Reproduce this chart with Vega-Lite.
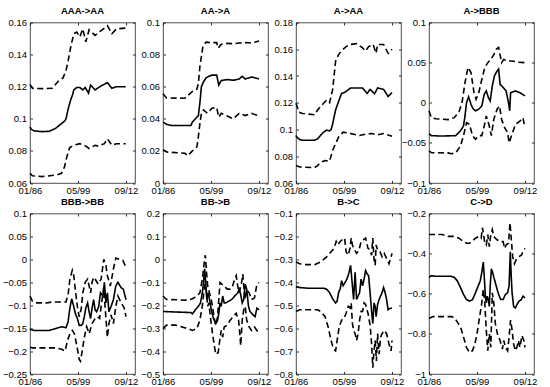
{
"$schema": "https://vega.github.io/schema/vega-lite/v6.json",
"padding": {"left": 2, "top": 4.5, "right": 5, "bottom": 2},
"background": "white",
"columns": 4,
"spacing": {"row": 30, "column": 28},
"bounds": "flush",
"config": {
  "view": {"stroke": "#222222", "strokeWidth": 0.8},
  "axis": {"grid": false, "domain": false, "tickSize": -2.5, "tickColor": "black", "tickWidth": 0.8, "labelColor": "black", "labelFont": "Liberation Sans", "labelFontSize": 9.5, "labelPadding": 6, "title": null},
  "axisBottom": {"labelPadding": 4.5},
  "title": {"font": "Liberation Sans", "fontSize": 9.5, "fontWeight": "bold", "color": "black", "offset": 2.5},
  "line": {"color": "black", "strokeWidth": 1.6}
},
"datasets": {
"p1": [
{"s":"m","t":0,"v":0.095},{"s":"m","t":4,"v":0.0935},{"s":"m","t":13,"v":0.0925},{"s":"m","t":40,"v":0.092},{"s":"m","t":64,"v":0.0922},{"s":"m","t":85,"v":0.094},{"s":"m","t":95,"v":0.0955},{"s":"m","t":105,"v":0.097},{"s":"m","t":115,"v":0.0985},{"s":"m","t":120,"v":0.1},{"s":"m","t":127,"v":0.106},{"s":"m","t":136,"v":0.112},{"s":"m","t":142,"v":0.115},{"s":"m","t":146,"v":0.118},{"s":"m","t":156,"v":0.1195},{"s":"m","t":166,"v":0.1195},{"s":"m","t":176,"v":0.118},{"s":"m","t":184,"v":0.1195},{"s":"m","t":195,"v":0.116},{"s":"m","t":202,"v":0.121},{"s":"m","t":217,"v":0.118},{"s":"m","t":237,"v":0.1205},{"s":"m","t":258,"v":0.1225},{"s":"m","t":273,"v":0.119},{"s":"m","t":288,"v":0.12},{"s":"m","t":319,"v":0.12},
{"s":"h","t":0,"v":0.1215},{"s":"h","t":8,"v":0.119},{"s":"h","t":40,"v":0.1188},{"s":"h","t":74,"v":0.119},{"s":"h","t":95,"v":0.1235},{"s":"h","t":110,"v":0.1255},{"s":"h","t":120,"v":0.13},{"s":"h","t":127,"v":0.136},{"s":"h","t":136,"v":0.145},{"s":"h","t":146,"v":0.153},{"s":"h","t":156,"v":0.154},{"s":"h","t":166,"v":0.151},{"s":"h","t":176,"v":0.156},{"s":"h","t":186,"v":0.148},{"s":"h","t":197,"v":0.1555},{"s":"h","t":217,"v":0.152},{"s":"h","t":237,"v":0.155},{"s":"h","t":258,"v":0.158},{"s":"h","t":273,"v":0.153},{"s":"h","t":288,"v":0.156},{"s":"h","t":319,"v":0.1565},
{"s":"l","t":0,"v":0.066},{"s":"l","t":8,"v":0.0645},{"s":"l","t":40,"v":0.064},{"s":"l","t":90,"v":0.065},{"s":"l","t":105,"v":0.066},{"s":"l","t":115,"v":0.07},{"s":"l","t":122,"v":0.0757},{"s":"l","t":132,"v":0.082},{"s":"l","t":146,"v":0.0835},{"s":"l","t":166,"v":0.0845},{"s":"l","t":186,"v":0.083},{"s":"l","t":197,"v":0.0815},{"s":"l","t":217,"v":0.0835},{"s":"l","t":227,"v":0.083},{"s":"l","t":248,"v":0.0845},{"s":"l","t":258,"v":0.0875},{"s":"l","t":273,"v":0.0835},{"s":"l","t":288,"v":0.0845},{"s":"l","t":319,"v":0.0845}
],
"p2": [
{"s":"m","t":0,"v":0.038},{"s":"m","t":12,"v":0.0365},{"s":"m","t":30,"v":0.0358},{"s":"m","t":93,"v":0.0358},{"s":"m","t":98,"v":0.038},{"s":"m","t":108,"v":0.04},{"s":"m","t":118,"v":0.042},{"s":"m","t":123,"v":0.05},{"s":"m","t":128,"v":0.06},{"s":"m","t":135,"v":0.063},{"s":"m","t":143,"v":0.0654},{"s":"m","t":153,"v":0.0665},{"s":"m","t":163,"v":0.0672},{"s":"m","t":179,"v":0.0672},{"s":"m","t":186,"v":0.061},{"s":"m","t":194,"v":0.0638},{"s":"m","t":214,"v":0.0645},{"s":"m","t":234,"v":0.064},{"s":"m","t":254,"v":0.0648},{"s":"m","t":264,"v":0.0665},{"s":"m","t":274,"v":0.0648},{"s":"m","t":295,"v":0.066},{"s":"m","t":320,"v":0.0648},
{"s":"h","t":0,"v":0.0556},{"s":"h","t":12,"v":0.053},{"s":"h","t":73,"v":0.0528},{"s":"h","t":98,"v":0.057},{"s":"h","t":113,"v":0.0585},{"s":"h","t":118,"v":0.062},{"s":"h","t":123,"v":0.0727},{"s":"h","t":133,"v":0.085},{"s":"h","t":143,"v":0.0878},{"s":"h","t":163,"v":0.0874},{"s":"h","t":179,"v":0.0875},{"s":"h","t":184,"v":0.084},{"s":"h","t":194,"v":0.0865},{"s":"h","t":214,"v":0.087},{"s":"h","t":234,"v":0.0868},{"s":"h","t":254,"v":0.0872},{"s":"h","t":274,"v":0.0875},{"s":"h","t":295,"v":0.0872},{"s":"h","t":320,"v":0.0885},
{"s":"l","t":0,"v":0.0208},{"s":"l","t":12,"v":0.0193},{"s":"l","t":73,"v":0.0185},{"s":"l","t":83,"v":0.017},{"s":"l","t":98,"v":0.02},{"s":"l","t":113,"v":0.0225},{"s":"l","t":118,"v":0.029},{"s":"l","t":123,"v":0.037},{"s":"l","t":128,"v":0.0434},{"s":"l","t":135,"v":0.0455},{"s":"l","t":148,"v":0.0434},{"s":"l","t":163,"v":0.0466},{"s":"l","t":179,"v":0.047},{"s":"l","t":186,"v":0.041},{"s":"l","t":194,"v":0.0434},{"s":"l","t":214,"v":0.0417},{"s":"l","t":234,"v":0.04},{"s":"l","t":254,"v":0.0434},{"s":"l","t":274,"v":0.042},{"s":"l","t":295,"v":0.0434},{"s":"l","t":320,"v":0.0417}
],
"p3": [
{"s":"m","t":0,"v":0.0955},{"s":"m","t":2,"v":0.0945},{"s":"m","t":12,"v":0.0925},{"s":"m","t":22,"v":0.092},{"s":"m","t":62,"v":0.092},{"s":"m","t":72,"v":0.093},{"s":"m","t":82,"v":0.0957},{"s":"m","t":92,"v":0.098},{"s":"m","t":102,"v":0.0995},{"s":"m","t":112,"v":0.099},{"s":"m","t":117,"v":0.1},{"s":"m","t":122,"v":0.104},{"s":"m","t":132,"v":0.1146},{"s":"m","t":142,"v":0.121},{"s":"m","t":152,"v":0.127},{"s":"m","t":162,"v":0.1277},{"s":"m","t":182,"v":0.131},{"s":"m","t":222,"v":0.131},{"s":"m","t":237,"v":0.127},{"s":"m","t":247,"v":0.13},{"s":"m","t":262,"v":0.1267},{"s":"m","t":272,"v":0.131},{"s":"m","t":292,"v":0.13},{"s":"m","t":307,"v":0.1247},{"s":"m","t":320,"v":0.1277},
{"s":"h","t":0,"v":0.1196},{"s":"h","t":10,"v":0.113},{"s":"h","t":22,"v":0.112},{"s":"h","t":62,"v":0.111},{"s":"h","t":72,"v":0.1146},{"s":"h","t":92,"v":0.1196},{"s":"h","t":102,"v":0.122},{"s":"h","t":112,"v":0.12},{"s":"h","t":122,"v":0.1297},{"s":"h","t":132,"v":0.151},{"s":"h","t":142,"v":0.156},{"s":"h","t":152,"v":0.159},{"s":"h","t":167,"v":0.162},{"s":"h","t":182,"v":0.1636},{"s":"h","t":202,"v":0.1642},{"s":"h","t":222,"v":0.161},{"s":"h","t":232,"v":0.1586},{"s":"h","t":242,"v":0.162},{"s":"h","t":257,"v":0.1636},{"s":"h","t":267,"v":0.157},{"s":"h","t":272,"v":0.1636},{"s":"h","t":292,"v":0.1636},{"s":"h","t":307,"v":0.157},{"s":"h","t":320,"v":0.16},
{"s":"l","t":0,"v":0.073},{"s":"l","t":12,"v":0.072},{"s":"l","t":62,"v":0.0715},{"s":"l","t":72,"v":0.073},{"s":"l","t":82,"v":0.0756},{"s":"l","t":97,"v":0.0768},{"s":"l","t":112,"v":0.0763},{"s":"l","t":122,"v":0.0844},{"s":"l","t":132,"v":0.0894},{"s":"l","t":142,"v":0.0945},{"s":"l","t":157,"v":0.098},{"s":"l","t":172,"v":0.0975},{"s":"l","t":192,"v":0.0965},{"s":"l","t":212,"v":0.0955},{"s":"l","t":232,"v":0.0965},{"s":"l","t":252,"v":0.097},{"s":"l","t":272,"v":0.096},{"s":"l","t":292,"v":0.097},{"s":"l","t":320,"v":0.095}
],
"p4": [
{"s":"m","t":0,"v":-0.0385},{"s":"m","t":8,"v":-0.041},{"s":"m","t":40,"v":-0.0415},{"s":"m","t":89,"v":-0.041},{"s":"m","t":105,"v":-0.035},{"s":"m","t":115,"v":-0.029},{"s":"m","t":120,"v":-0.0165},{"s":"m","t":125,"v":0},{"s":"m","t":132,"v":0.0075},{"s":"m","t":140,"v":-0.002},{"s":"m","t":147,"v":-0.0075},{"s":"m","t":155,"v":-0.01},{"s":"m","t":166,"v":-0.008},{"s":"m","t":176,"v":-0.004},{"s":"m","t":184,"v":0.0106},{"s":"m","t":191,"v":0.0147},{"s":"m","t":198,"v":0.0064},{"s":"m","t":204,"v":0.0023},{"s":"m","t":211,"v":0.021},{"s":"m","t":218,"v":0.0334},{"s":"m","t":227,"v":0.0397},{"s":"m","t":232,"v":0.042},{"s":"m","t":237,"v":0.023},{"s":"m","t":245,"v":0.02},{"s":"m","t":257,"v":0.0147},{"s":"m","t":265,"v":0},{"s":"m","t":269,"v":-0.01},{"s":"m","t":272,"v":0.0126},{"s":"m","t":288,"v":0.0147},{"s":"m","t":303,"v":0.0126},{"s":"m","t":320,"v":0.0085},
{"s":"h","t":0,"v":-0.01},{"s":"h","t":8,"v":-0.0186},{"s":"h","t":23,"v":-0.02},{"s":"h","t":64,"v":-0.021},{"s":"h","t":84,"v":-0.0186},{"s":"h","t":100,"v":-0.0115},{"s":"h","t":110,"v":0},{"s":"h","t":120,"v":0.025},{"s":"h","t":130,"v":0.044},{"s":"h","t":140,"v":0.0376},{"s":"h","t":150,"v":0.0126},{"s":"h","t":157,"v":0.0043},{"s":"h","t":166,"v":0.0126},{"s":"h","t":176,"v":0.029},{"s":"h","t":186,"v":0.044},{"s":"h","t":196,"v":0.05},{"s":"h","t":206,"v":0.054},{"s":"h","t":216,"v":0.06},{"s":"h","t":225,"v":0.067},{"s":"h","t":232,"v":0.069},{"s":"h","t":242,"v":0.05},{"s":"h","t":249,"v":0.054},{"s":"h","t":262,"v":0.052},{"s":"h","t":277,"v":0.052},{"s":"h","t":298,"v":0.0505},{"s":"h","t":320,"v":0.05},
{"s":"l","t":0,"v":-0.06},{"s":"l","t":8,"v":-0.0622},{"s":"l","t":64,"v":-0.0625},{"s":"l","t":74,"v":-0.0635},{"s":"l","t":89,"v":-0.0625},{"s":"l","t":105,"v":-0.054},{"s":"l","t":115,"v":-0.041},{"s":"l","t":125,"v":-0.025},{"s":"l","t":135,"v":-0.027},{"s":"l","t":145,"v":-0.041},{"s":"l","t":155,"v":-0.0455},{"s":"l","t":166,"v":-0.041},{"s":"l","t":176,"v":-0.041},{"s":"l","t":184,"v":-0.029},{"s":"l","t":191,"v":-0.0165},{"s":"l","t":201,"v":-0.029},{"s":"l","t":208,"v":-0.041},{"s":"l","t":216,"v":-0.0205},{"s":"l","t":227,"v":-0.008},{"s":"l","t":235,"v":-0.004},{"s":"l","t":242,"v":-0.0205},{"s":"l","t":252,"v":-0.031},{"s":"l","t":262,"v":-0.037},{"s":"l","t":267,"v":-0.05},{"s":"l","t":275,"v":-0.041},{"s":"l","t":288,"v":-0.027},{"s":"l","t":303,"v":-0.023},{"s":"l","t":313,"v":-0.0186},{"s":"l","t":320,"v":-0.031}
],
"p5": [
{"s":"m","t":0,"v":-0.151},{"s":"m","t":3,"v":-0.153},{"s":"m","t":13,"v":-0.155},{"s":"m","t":64,"v":-0.155},{"s":"m","t":85,"v":-0.151},{"s":"m","t":105,"v":-0.147},{"s":"m","t":120,"v":-0.149},{"s":"m","t":127,"v":-0.136},{"s":"m","t":133,"v":-0.106},{"s":"m","t":139,"v":-0.086},{"s":"m","t":146,"v":-0.103},{"s":"m","t":151,"v":-0.118},{"s":"m","t":158,"v":-0.129},{"s":"m","t":164,"v":-0.144},{"s":"m","t":171,"v":-0.144},{"s":"m","t":176,"v":-0.14},{"s":"m","t":181,"v":-0.125},{"s":"m","t":186,"v":-0.106},{"s":"m","t":192,"v":-0.095},{"s":"m","t":197,"v":-0.114},{"s":"m","t":202,"v":-0.129},{"s":"m","t":207,"v":-0.106},{"s":"m","t":212,"v":-0.088},{"s":"m","t":217,"v":-0.11},{"s":"m","t":222,"v":-0.114},{"s":"m","t":229,"v":-0.103},{"s":"m","t":235,"v":-0.073},{"s":"m","t":243,"v":-0.08},{"s":"m","t":248,"v":-0.05},{"s":"m","t":253,"v":-0.095},{"s":"m","t":258,"v":-0.073},{"s":"m","t":263,"v":-0.114},{"s":"m","t":270,"v":-0.103},{"s":"m","t":278,"v":-0.088},{"s":"m","t":286,"v":-0.058},{"s":"m","t":293,"v":-0.05},{"s":"m","t":304,"v":-0.062},{"s":"m","t":311,"v":-0.065},{"s":"m","t":320,"v":-0.088},
{"s":"h","t":0,"v":-0.08},{"s":"h","t":8,"v":-0.091},{"s":"h","t":23,"v":-0.095},{"s":"h","t":54,"v":-0.095},{"s":"h","t":74,"v":-0.093},{"s":"h","t":105,"v":-0.093},{"s":"h","t":120,"v":-0.093},{"s":"h","t":127,"v":-0.077},{"s":"h","t":133,"v":-0.043},{"s":"h","t":141,"v":-0.024},{"s":"h","t":146,"v":-0.036},{"s":"h","t":151,"v":-0.066},{"s":"h","t":158,"v":-0.103},{"s":"h","t":164,"v":-0.125},{"s":"h","t":171,"v":-0.107},{"s":"h","t":176,"v":-0.073},{"s":"h","t":184,"v":-0.05},{"s":"h","t":192,"v":-0.043},{"s":"h","t":197,"v":-0.058},{"s":"h","t":202,"v":-0.073},{"s":"h","t":207,"v":-0.05},{"s":"h","t":212,"v":-0.039},{"s":"h","t":217,"v":-0.043},{"s":"h","t":227,"v":-0.054},{"s":"h","t":237,"v":-0.043},{"s":"h","t":246,"v":0},{"s":"h","t":253,"v":-0.013},{"s":"h","t":258,"v":-0.036},{"s":"h","t":268,"v":-0.058},{"s":"h","t":278,"v":-0.021},{"s":"h","t":286,"v":0.003},{"s":"h","t":299,"v":0},{"s":"h","t":309,"v":-0.002},{"s":"h","t":320,"v":-0.017},
{"s":"l","t":0,"v":-0.192},{"s":"l","t":8,"v":-0.193},{"s":"l","t":85,"v":-0.193},{"s":"l","t":105,"v":-0.196},{"s":"l","t":117,"v":-0.2},{"s":"l","t":125,"v":-0.177},{"s":"l","t":133,"v":-0.162},{"s":"l","t":141,"v":-0.155},{"s":"l","t":148,"v":-0.162},{"s":"l","t":156,"v":-0.188},{"s":"l","t":164,"v":-0.218},{"s":"l","t":168,"v":-0.222},{"s":"l","t":174,"v":-0.2},{"s":"l","t":181,"v":-0.17},{"s":"l","t":189,"v":-0.147},{"s":"l","t":197,"v":-0.162},{"s":"l","t":207,"v":-0.14},{"s":"l","t":217,"v":-0.129},{"s":"l","t":225,"v":-0.125},{"s":"l","t":232,"v":-0.129},{"s":"l","t":237,"v":-0.103},{"s":"l","t":246,"v":-0.062},{"s":"l","t":251,"v":-0.11},{"s":"l","t":258,"v":-0.17},{"s":"l","t":263,"v":-0.14},{"s":"l","t":270,"v":-0.121},{"s":"l","t":278,"v":-0.14},{"s":"l","t":286,"v":-0.103},{"s":"l","t":293,"v":-0.08},{"s":"l","t":304,"v":-0.095},{"s":"l","t":314,"v":-0.106},{"s":"l","t":320,"v":-0.125}
],
"p6": [
{"s":"m","t":0,"v":-0.227},{"s":"m","t":12,"v":-0.228},{"s":"m","t":50,"v":-0.23},{"s":"m","t":93,"v":-0.232},{"s":"m","t":98,"v":-0.238},{"s":"m","t":108,"v":-0.22},{"s":"m","t":118,"v":-0.205},{"s":"m","t":125,"v":-0.19},{"s":"m","t":131,"v":-0.146},{"s":"m","t":135,"v":-0.1},{"s":"m","t":139,"v":-0.041},{"s":"m","t":143,"v":-0.116},{"s":"m","t":146,"v":-0.175},{"s":"m","t":151,"v":-0.146},{"s":"m","t":155,"v":-0.175},{"s":"m","t":161,"v":-0.22},{"s":"m","t":168,"v":-0.257},{"s":"m","t":176,"v":-0.28},{"s":"m","t":182,"v":-0.265},{"s":"m","t":186,"v":-0.235},{"s":"m","t":190,"v":-0.19},{"s":"m","t":194,"v":-0.205},{"s":"m","t":199,"v":-0.16},{"s":"m","t":204,"v":-0.19},{"s":"m","t":209,"v":-0.19},{"s":"m","t":219,"v":-0.183},{"s":"m","t":229,"v":-0.175},{"s":"m","t":239,"v":-0.16},{"s":"m","t":249,"v":-0.146},{"s":"m","t":254,"v":-0.13},{"s":"m","t":259,"v":-0.153},{"s":"m","t":264,"v":-0.19},{"s":"m","t":269,"v":-0.175},{"s":"m","t":274,"v":-0.108},{"s":"m","t":279,"v":-0.13},{"s":"m","t":285,"v":-0.205},{"s":"m","t":290,"v":-0.227},{"s":"m","t":300,"v":-0.242},{"s":"m","t":307,"v":-0.25},{"s":"m","t":313,"v":-0.213},{"s":"m","t":320,"v":-0.22},
{"s":"h","t":0,"v":-0.16},{"s":"h","t":12,"v":-0.175},{"s":"h","t":83,"v":-0.178},{"s":"h","t":98,"v":-0.172},{"s":"h","t":113,"v":-0.16},{"s":"h","t":123,"v":-0.146},{"s":"h","t":131,"v":-0.086},{"s":"h","t":137,"v":-0.019},{"s":"h","t":141,"v":0.018},{"s":"h","t":145,"v":-0.056},{"s":"h","t":149,"v":-0.116},{"s":"h","t":155,"v":-0.146},{"s":"h","t":163,"v":-0.19},{"s":"h","t":172,"v":-0.265},{"s":"h","t":176,"v":-0.287},{"s":"h","t":182,"v":-0.25},{"s":"h","t":186,"v":-0.175},{"s":"h","t":190,"v":-0.101},{"s":"h","t":196,"v":-0.108},{"s":"h","t":204,"v":-0.116},{"s":"h","t":214,"v":-0.13},{"s":"h","t":224,"v":-0.13},{"s":"h","t":232,"v":-0.116},{"s":"h","t":239,"v":-0.086},{"s":"h","t":244,"v":-0.071},{"s":"h","t":249,"v":-0.116},{"s":"h","t":254,"v":-0.146},{"s":"h","t":262,"v":-0.101},{"s":"h","t":266,"v":-0.064},{"s":"h","t":270,"v":-0.131},{"s":"h","t":274,"v":-0.175},{"s":"h","t":279,"v":-0.131},{"s":"h","t":287,"v":-0.146},{"s":"h","t":295,"v":-0.175},{"s":"h","t":305,"v":-0.168},{"s":"h","t":313,"v":-0.108},{"s":"h","t":320,"v":-0.101},
{"s":"l","t":0,"v":-0.302},{"s":"l","t":12,"v":-0.287},{"s":"l","t":42,"v":-0.287},{"s":"l","t":83,"v":-0.302},{"s":"l","t":98,"v":-0.31},{"s":"l","t":113,"v":-0.302},{"s":"l","t":123,"v":-0.265},{"s":"l","t":131,"v":-0.205},{"s":"l","t":137,"v":-0.131},{"s":"l","t":141,"v":-0.086},{"s":"l","t":145,"v":-0.146},{"s":"l","t":149,"v":-0.205},{"s":"l","t":153,"v":-0.19},{"s":"l","t":158,"v":-0.25},{"s":"l","t":165,"v":-0.324},{"s":"l","t":172,"v":-0.384},{"s":"l","t":176,"v":-0.414},{"s":"l","t":184,"v":-0.406},{"s":"l","t":189,"v":-0.354},{"s":"l","t":194,"v":-0.31},{"s":"l","t":199,"v":-0.339},{"s":"l","t":204,"v":-0.295},{"s":"l","t":214,"v":-0.287},{"s":"l","t":224,"v":-0.265},{"s":"l","t":234,"v":-0.25},{"s":"l","t":244,"v":-0.235},{"s":"l","t":252,"v":-0.265},{"s":"l","t":256,"v":-0.324},{"s":"l","t":259,"v":-0.376},{"s":"l","t":264,"v":-0.265},{"s":"l","t":269,"v":-0.22},{"s":"l","t":274,"v":-0.205},{"s":"l","t":279,"v":-0.265},{"s":"l","t":287,"v":-0.295},{"s":"l","t":295,"v":-0.31},{"s":"l","t":305,"v":-0.295},{"s":"l","t":313,"v":-0.31},{"s":"l","t":320,"v":-0.324}
],
"p7": [
{"s":"m","t":0,"v":-0.419},{"s":"m","t":12,"v":-0.423},{"s":"m","t":40,"v":-0.426},{"s":"m","t":92,"v":-0.426},{"s":"m","t":102,"v":-0.43},{"s":"m","t":112,"v":-0.445},{"s":"m","t":122,"v":-0.472},{"s":"m","t":132,"v":-0.49},{"s":"m","t":137,"v":-0.483},{"s":"m","t":142,"v":-0.445},{"s":"m","t":147,"v":-0.43},{"s":"m","t":152,"v":-0.393},{"s":"m","t":157,"v":-0.415},{"s":"m","t":162,"v":-0.404},{"s":"m","t":167,"v":-0.393},{"s":"m","t":172,"v":-0.378},{"s":"m","t":177,"v":-0.356},{"s":"m","t":182,"v":-0.326},{"s":"m","t":187,"v":-0.4},{"s":"m","t":192,"v":-0.475},{"s":"m","t":197,"v":-0.356},{"s":"m","t":202,"v":-0.475},{"s":"m","t":207,"v":-0.46},{"s":"m","t":212,"v":-0.445},{"s":"m","t":217,"v":-0.386},{"s":"m","t":222,"v":-0.415},{"s":"m","t":227,"v":-0.386},{"s":"m","t":232,"v":-0.349},{"s":"m","t":237,"v":-0.363},{"s":"m","t":242,"v":-0.371},{"s":"m","t":247,"v":-0.445},{"s":"m","t":252,"v":-0.527},{"s":"m","t":256,"v":-0.58},{"s":"m","t":260,"v":-0.49},{"s":"m","t":264,"v":-0.505},{"s":"m","t":267,"v":-0.55},{"s":"m","t":272,"v":-0.497},{"s":"m","t":277,"v":-0.475},{"s":"m","t":282,"v":-0.46},{"s":"m","t":287,"v":-0.445},{"s":"m","t":292,"v":-0.423},{"s":"m","t":297,"v":-0.445},{"s":"m","t":302,"v":-0.475},{"s":"m","t":307,"v":-0.52},{"s":"m","t":314,"v":-0.513},{"s":"m","t":320,"v":-0.513},
{"s":"h","t":0,"v":-0.311},{"s":"h","t":12,"v":-0.319},{"s":"h","t":32,"v":-0.323},{"s":"h","t":62,"v":-0.323},{"s":"h","t":82,"v":-0.311},{"s":"h","t":102,"v":-0.289},{"s":"h","t":117,"v":-0.267},{"s":"h","t":127,"v":-0.252},{"s":"h","t":134,"v":-0.222},{"s":"h","t":140,"v":-0.237},{"s":"h","t":147,"v":-0.222},{"s":"h","t":154,"v":-0.215},{"s":"h","t":162,"v":-0.207},{"s":"h","t":167,"v":-0.267},{"s":"h","t":174,"v":-0.282},{"s":"h","t":180,"v":-0.252},{"s":"h","t":184,"v":-0.207},{"s":"h","t":188,"v":-0.237},{"s":"h","t":192,"v":-0.252},{"s":"h","t":202,"v":-0.274},{"s":"h","t":210,"v":-0.26},{"s":"h","t":217,"v":-0.222},{"s":"h","t":224,"v":-0.215},{"s":"h","t":232,"v":-0.207},{"s":"h","t":240,"v":-0.252},{"s":"h","t":247,"v":-0.259},{"s":"h","t":252,"v":-0.282},{"s":"h","t":256,"v":-0.207},{"s":"h","t":260,"v":-0.296},{"s":"h","t":264,"v":-0.326},{"s":"h","t":267,"v":-0.237},{"s":"h","t":272,"v":-0.26},{"s":"h","t":280,"v":-0.267},{"s":"h","t":287,"v":-0.289},{"s":"h","t":294,"v":-0.274},{"s":"h","t":302,"v":-0.296},{"s":"h","t":310,"v":-0.319},{"s":"h","t":317,"v":-0.289},{"s":"h","t":320,"v":-0.274},
{"s":"l","t":0,"v":-0.527},{"s":"l","t":12,"v":-0.52},{"s":"l","t":72,"v":-0.52},{"s":"l","t":82,"v":-0.527},{"s":"l","t":97,"v":-0.55},{"s":"l","t":107,"v":-0.594},{"s":"l","t":117,"v":-0.654},{"s":"l","t":125,"v":-0.691},{"s":"l","t":132,"v":-0.699},{"s":"l","t":137,"v":-0.654},{"s":"l","t":144,"v":-0.594},{"s":"l","t":152,"v":-0.565},{"s":"l","t":160,"v":-0.557},{"s":"l","t":167,"v":-0.535},{"s":"l","t":174,"v":-0.505},{"s":"l","t":180,"v":-0.512},{"s":"l","t":184,"v":-0.49},{"s":"l","t":188,"v":-0.579},{"s":"l","t":192,"v":-0.61},{"s":"l","t":197,"v":-0.624},{"s":"l","t":202,"v":-0.654},{"s":"l","t":207,"v":-0.624},{"s":"l","t":212,"v":-0.565},{"s":"l","t":217,"v":-0.527},{"s":"l","t":222,"v":-0.527},{"s":"l","t":227,"v":-0.49},{"s":"l","t":232,"v":-0.497},{"s":"l","t":240,"v":-0.535},{"s":"l","t":247,"v":-0.587},{"s":"l","t":252,"v":-0.669},{"s":"l","t":256,"v":-0.773},{"s":"l","t":260,"v":-0.699},{"s":"l","t":264,"v":-0.654},{"s":"l","t":268,"v":-0.743},{"s":"l","t":272,"v":-0.624},{"s":"l","t":277,"v":-0.714},{"s":"l","t":282,"v":-0.639},{"s":"l","t":287,"v":-0.624},{"s":"l","t":294,"v":-0.61},{"s":"l","t":302,"v":-0.624},{"s":"l","t":310,"v":-0.669},{"s":"l","t":317,"v":-0.699},{"s":"l","t":320,"v":-0.654}
],
"p8": [
{"s":"m","t":0,"v":-0.518},{"s":"m","t":8,"v":-0.51},{"s":"m","t":23,"v":-0.513},{"s":"m","t":74,"v":-0.513},{"s":"m","t":84,"v":-0.518},{"s":"m","t":94,"v":-0.535},{"s":"m","t":105,"v":-0.569},{"s":"m","t":115,"v":-0.603},{"s":"m","t":125,"v":-0.629},{"s":"m","t":135,"v":-0.637},{"s":"m","t":145,"v":-0.629},{"s":"m","t":155,"v":-0.595},{"s":"m","t":164,"v":-0.561},{"s":"m","t":171,"v":-0.535},{"s":"m","t":176,"v":-0.493},{"s":"m","t":181,"v":-0.442},{"s":"m","t":184,"v":-0.51},{"s":"m","t":188,"v":-0.612},{"s":"m","t":191,"v":-0.646},{"s":"m","t":194,"v":-0.612},{"s":"m","t":198,"v":-0.629},{"s":"m","t":201,"v":-0.663},{"s":"m","t":204,"v":-0.561},{"s":"m","t":208,"v":-0.476},{"s":"m","t":212,"v":-0.493},{"s":"m","t":216,"v":-0.518},{"s":"m","t":221,"v":-0.544},{"s":"m","t":227,"v":-0.578},{"s":"m","t":232,"v":-0.603},{"s":"m","t":239,"v":-0.629},{"s":"m","t":247,"v":-0.629},{"s":"m","t":255,"v":-0.603},{"s":"m","t":262,"v":-0.595},{"s":"m","t":267,"v":-0.561},{"s":"m","t":271,"v":-0.391},{"s":"m","t":274,"v":-0.51},{"s":"m","t":277,"v":-0.595},{"s":"m","t":282,"v":-0.663},{"s":"m","t":288,"v":-0.671},{"s":"m","t":293,"v":-0.654},{"s":"m","t":300,"v":-0.637},{"s":"m","t":308,"v":-0.629},{"s":"m","t":313,"v":-0.612},{"s":"m","t":320,"v":-0.62},
{"s":"h","t":0,"v":-0.305},{"s":"h","t":44,"v":-0.305},{"s":"h","t":64,"v":-0.314},{"s":"h","t":84,"v":-0.314},{"s":"h","t":100,"v":-0.323},{"s":"h","t":115,"v":-0.34},{"s":"h","t":125,"v":-0.348},{"s":"h","t":135,"v":-0.348},{"s":"h","t":145,"v":-0.336},{"s":"h","t":155,"v":-0.323},{"s":"h","t":166,"v":-0.314},{"s":"h","t":174,"v":-0.323},{"s":"h","t":178,"v":-0.271},{"s":"h","t":182,"v":-0.305},{"s":"h","t":186,"v":-0.348},{"s":"h","t":191,"v":-0.357},{"s":"h","t":196,"v":-0.305},{"s":"h","t":201,"v":-0.365},{"s":"h","t":206,"v":-0.305},{"s":"h","t":211,"v":-0.28},{"s":"h","t":216,"v":-0.314},{"s":"h","t":221,"v":-0.323},{"s":"h","t":227,"v":-0.331},{"s":"h","t":237,"v":-0.34},{"s":"h","t":247,"v":-0.34},{"s":"h","t":252,"v":-0.374},{"s":"h","t":257,"v":-0.357},{"s":"h","t":265,"v":-0.348},{"s":"h","t":270,"v":-0.246},{"s":"h","t":274,"v":-0.323},{"s":"h","t":279,"v":-0.416},{"s":"h","t":285,"v":-0.45},{"s":"h","t":292,"v":-0.425},{"s":"h","t":299,"v":-0.416},{"s":"h","t":308,"v":-0.408},{"s":"h","t":313,"v":-0.391},{"s":"h","t":320,"v":-0.374},
{"s":"l","t":0,"v":-0.723},{"s":"l","t":13,"v":-0.714},{"s":"l","t":74,"v":-0.714},{"s":"l","t":84,"v":-0.718},{"s":"l","t":94,"v":-0.74},{"s":"l","t":105,"v":-0.765},{"s":"l","t":115,"v":-0.816},{"s":"l","t":125,"v":-0.867},{"s":"l","t":135,"v":-0.893},{"s":"l","t":145,"v":-0.884},{"s":"l","t":153,"v":-0.85},{"s":"l","t":160,"v":-0.8},{"s":"l","t":167,"v":-0.731},{"s":"l","t":176,"v":-0.646},{"s":"l","t":181,"v":-0.578},{"s":"l","t":186,"v":-0.646},{"s":"l","t":191,"v":-0.782},{"s":"l","t":196,"v":-0.884},{"s":"l","t":201,"v":-0.8},{"s":"l","t":206,"v":-0.867},{"s":"l","t":211,"v":-0.595},{"s":"l","t":216,"v":-0.646},{"s":"l","t":221,"v":-0.748},{"s":"l","t":228,"v":-0.8},{"s":"l","t":237,"v":-0.833},{"s":"l","t":245,"v":-0.876},{"s":"l","t":249,"v":-0.833},{"s":"l","t":255,"v":-0.867},{"s":"l","t":262,"v":-0.884},{"s":"l","t":267,"v":-0.816},{"s":"l","t":272,"v":-0.731},{"s":"l","t":277,"v":-0.782},{"s":"l","t":282,"v":-0.85},{"s":"l","t":288,"v":-0.884},{"s":"l","t":293,"v":-0.867},{"s":"l","t":298,"v":-0.833},{"s":"l","t":303,"v":-0.867},{"s":"l","t":310,"v":-0.808},{"s":"l","t":316,"v":-0.833},{"s":"l","t":320,"v":-0.867}
]
},
"concat": [
{"title": "AAA->AA", "width": 105, "height": 160.5, "data": {"name": "p1"}, "resolve": {"axis": {"x": "independent", "y": "independent"}},
 "layer": [
  {"mark": {"type": "line"}, "encoding": {
   "x": {"field": "t", "type": "quantitative", "scale": {"domain": [0, 320]}, "axis": {"values": [0, 160, 320], "labelExpr": "datum.value == 0 ? '01/86' : datum.value == 160 ? '05/99' : '09/12'", "labelFlush": false, "labelOverlap": false}},
   "y": {"field": "v", "type": "quantitative", "scale": {"domain": [0.06, 0.16], "zero": false}, "axis": {"values": [0.06, 0.08, 0.1, 0.12, 0.14, 0.16], "labelExpr": "replace('' + datum.value, '-', '\u2212')", "labelOverlap": false}},
   "strokeDash": {"field": "s", "type": "nominal", "scale": {"domain": ["m", "l", "h"], "range": [[1, 0], [6, 3.5], [6, 3.5]]}, "legend": null}}},
  {"mark": {"type": "line", "strokeOpacity": 0}, "encoding": {
   "x": {"field": "t", "type": "quantitative", "axis": {"orient": "top", "values": [0, 160, 320], "labels": false}},
   "y": {"field": "v", "type": "quantitative", "axis": {"orient": "right", "values": [0.06, 0.08, 0.1, 0.12, 0.14, 0.16], "labels": false}},
   "detail": {"field": "s"}}}
 ]},
{"title": "AA->A", "width": 105, "height": 160.5, "data": {"name": "p2"}, "resolve": {"axis": {"x": "independent", "y": "independent"}},
 "layer": [
  {"mark": {"type": "line"}, "encoding": {
   "x": {"field": "t", "type": "quantitative", "scale": {"domain": [0, 320]}, "axis": {"values": [0, 160, 320], "labelExpr": "datum.value == 0 ? '01/86' : datum.value == 160 ? '05/99' : '09/12'", "labelFlush": false, "labelOverlap": false}},
   "y": {"field": "v", "type": "quantitative", "scale": {"domain": [0, 0.1], "zero": false}, "axis": {"values": [0, 0.02, 0.04, 0.06, 0.08, 0.1], "labelExpr": "replace('' + datum.value, '-', '\u2212')", "labelOverlap": false}},
   "strokeDash": {"field": "s", "type": "nominal", "scale": {"domain": ["m", "l", "h"], "range": [[1, 0], [6, 3.5], [6, 3.5]]}, "legend": null}}},
  {"mark": {"type": "line", "strokeOpacity": 0}, "encoding": {
   "x": {"field": "t", "type": "quantitative", "axis": {"orient": "top", "values": [0, 160, 320], "labels": false}},
   "y": {"field": "v", "type": "quantitative", "axis": {"orient": "right", "values": [0, 0.02, 0.04, 0.06, 0.08, 0.1], "labels": false}},
   "detail": {"field": "s"}}}
 ]},
{"title": "A->AA", "width": 105, "height": 160.5, "data": {"name": "p3"}, "resolve": {"axis": {"x": "independent", "y": "independent"}},
 "layer": [
  {"mark": {"type": "line"}, "encoding": {
   "x": {"field": "t", "type": "quantitative", "scale": {"domain": [0, 320]}, "axis": {"values": [0, 160, 320], "labelExpr": "datum.value == 0 ? '01/86' : datum.value == 160 ? '05/99' : '09/12'", "labelFlush": false, "labelOverlap": false}},
   "y": {"field": "v", "type": "quantitative", "scale": {"domain": [0.06, 0.18], "zero": false}, "axis": {"values": [0.06, 0.08, 0.1, 0.12, 0.14, 0.16, 0.18], "labelExpr": "replace('' + datum.value, '-', '\u2212')", "labelOverlap": false}},
   "strokeDash": {"field": "s", "type": "nominal", "scale": {"domain": ["m", "l", "h"], "range": [[1, 0], [6, 3.5], [6, 3.5]]}, "legend": null}}},
  {"mark": {"type": "line", "strokeOpacity": 0}, "encoding": {
   "x": {"field": "t", "type": "quantitative", "axis": {"orient": "top", "values": [0, 160, 320], "labels": false}},
   "y": {"field": "v", "type": "quantitative", "axis": {"orient": "right", "values": [0.06, 0.08, 0.1, 0.12, 0.14, 0.16, 0.18], "labels": false}},
   "detail": {"field": "s"}}}
 ]},
{"title": "A->BBB", "width": 105, "height": 160.5, "data": {"name": "p4"}, "resolve": {"axis": {"x": "independent", "y": "independent"}},
 "layer": [
  {"mark": {"type": "line"}, "encoding": {
   "x": {"field": "t", "type": "quantitative", "scale": {"domain": [0, 320]}, "axis": {"values": [0, 160, 320], "labelExpr": "datum.value == 0 ? '01/86' : datum.value == 160 ? '05/99' : '09/12'", "labelFlush": false, "labelOverlap": false}},
   "y": {"field": "v", "type": "quantitative", "scale": {"domain": [-0.1, 0.1], "zero": false}, "axis": {"values": [-0.1, -0.05, 0, 0.05, 0.1], "labelExpr": "replace('' + datum.value, '-', '\u2212')", "labelOverlap": false}},
   "strokeDash": {"field": "s", "type": "nominal", "scale": {"domain": ["m", "l", "h"], "range": [[1, 0], [6, 3.5], [6, 3.5]]}, "legend": null}}},
  {"mark": {"type": "line", "strokeOpacity": 0}, "encoding": {
   "x": {"field": "t", "type": "quantitative", "axis": {"orient": "top", "values": [0, 160, 320], "labels": false}},
   "y": {"field": "v", "type": "quantitative", "axis": {"orient": "right", "values": [-0.1, -0.05, 0, 0.05, 0.1], "labels": false}},
   "detail": {"field": "s"}}}
 ]},
{"title": "BBB->BB", "width": 105, "height": 160.5, "data": {"name": "p5"}, "resolve": {"axis": {"x": "independent", "y": "independent"}},
 "layer": [
  {"mark": {"type": "line"}, "encoding": {
   "x": {"field": "t", "type": "quantitative", "scale": {"domain": [0, 320]}, "axis": {"values": [0, 160, 320], "labelExpr": "datum.value == 0 ? '01/86' : datum.value == 160 ? '05/99' : '09/12'", "labelFlush": false, "labelOverlap": false}},
   "y": {"field": "v", "type": "quantitative", "scale": {"domain": [-0.25, 0.1], "zero": false}, "axis": {"values": [-0.25, -0.2, -0.15, -0.1, -0.05, 0, 0.05, 0.1], "labelExpr": "replace('' + datum.value, '-', '\u2212')", "labelOverlap": false}},
   "strokeDash": {"field": "s", "type": "nominal", "scale": {"domain": ["m", "l", "h"], "range": [[1, 0], [6, 3.5], [6, 3.5]]}, "legend": null}}},
  {"mark": {"type": "line", "strokeOpacity": 0}, "encoding": {
   "x": {"field": "t", "type": "quantitative", "axis": {"orient": "top", "values": [0, 160, 320], "labels": false}},
   "y": {"field": "v", "type": "quantitative", "axis": {"orient": "right", "values": [-0.25, -0.2, -0.15, -0.1, -0.05, 0, 0.05, 0.1], "labels": false}},
   "detail": {"field": "s"}}}
 ]},
{"title": "BB->B", "width": 105, "height": 160.5, "data": {"name": "p6"}, "resolve": {"axis": {"x": "independent", "y": "independent"}},
 "layer": [
  {"mark": {"type": "line"}, "encoding": {
   "x": {"field": "t", "type": "quantitative", "scale": {"domain": [0, 320]}, "axis": {"values": [0, 160, 320], "labelExpr": "datum.value == 0 ? '01/86' : datum.value == 160 ? '05/99' : '09/12'", "labelFlush": false, "labelOverlap": false}},
   "y": {"field": "v", "type": "quantitative", "scale": {"domain": [-0.5, 0.2], "zero": false}, "axis": {"values": [-0.5, -0.4, -0.3, -0.2, -0.1, 0, 0.1, 0.2], "labelExpr": "replace('' + datum.value, '-', '\u2212')", "labelOverlap": false}},
   "strokeDash": {"field": "s", "type": "nominal", "scale": {"domain": ["m", "l", "h"], "range": [[1, 0], [6, 3.5], [6, 3.5]]}, "legend": null}}},
  {"mark": {"type": "line", "strokeOpacity": 0}, "encoding": {
   "x": {"field": "t", "type": "quantitative", "axis": {"orient": "top", "values": [0, 160, 320], "labels": false}},
   "y": {"field": "v", "type": "quantitative", "axis": {"orient": "right", "values": [-0.5, -0.4, -0.3, -0.2, -0.1, 0, 0.1, 0.2], "labels": false}},
   "detail": {"field": "s"}}}
 ]},
{"title": "B->C", "width": 105, "height": 160.5, "data": {"name": "p7"}, "resolve": {"axis": {"x": "independent", "y": "independent"}},
 "layer": [
  {"mark": {"type": "line"}, "encoding": {
   "x": {"field": "t", "type": "quantitative", "scale": {"domain": [0, 320]}, "axis": {"values": [0, 160, 320], "labelExpr": "datum.value == 0 ? '01/86' : datum.value == 160 ? '05/99' : '09/12'", "labelFlush": false, "labelOverlap": false}},
   "y": {"field": "v", "type": "quantitative", "scale": {"domain": [-0.8, -0.1], "zero": false}, "axis": {"values": [-0.8, -0.7, -0.6, -0.5, -0.4, -0.3, -0.2, -0.1], "labelExpr": "replace('' + datum.value, '-', '\u2212')", "labelOverlap": false}},
   "strokeDash": {"field": "s", "type": "nominal", "scale": {"domain": ["m", "l", "h"], "range": [[1, 0], [6, 3.5], [6, 3.5]]}, "legend": null}}},
  {"mark": {"type": "line", "strokeOpacity": 0}, "encoding": {
   "x": {"field": "t", "type": "quantitative", "axis": {"orient": "top", "values": [0, 160, 320], "labels": false}},
   "y": {"field": "v", "type": "quantitative", "axis": {"orient": "right", "values": [-0.8, -0.7, -0.6, -0.5, -0.4, -0.3, -0.2, -0.1], "labels": false}},
   "detail": {"field": "s"}}}
 ]},
{"title": "C->D", "width": 105, "height": 160.5, "data": {"name": "p8"}, "resolve": {"axis": {"x": "independent", "y": "independent"}},
 "layer": [
  {"mark": {"type": "line"}, "encoding": {
   "x": {"field": "t", "type": "quantitative", "scale": {"domain": [0, 320]}, "axis": {"values": [0, 160, 320], "labelExpr": "datum.value == 0 ? '01/86' : datum.value == 160 ? '05/99' : '09/12'", "labelFlush": false, "labelOverlap": false}},
   "y": {"field": "v", "type": "quantitative", "scale": {"domain": [-1, -0.2], "zero": false}, "axis": {"values": [-1, -0.8, -0.6, -0.4, -0.2], "labelExpr": "replace('' + datum.value, '-', '\u2212')", "labelOverlap": false}},
   "strokeDash": {"field": "s", "type": "nominal", "scale": {"domain": ["m", "l", "h"], "range": [[1, 0], [6, 3.5], [6, 3.5]]}, "legend": null}}},
  {"mark": {"type": "line", "strokeOpacity": 0}, "encoding": {
   "x": {"field": "t", "type": "quantitative", "axis": {"orient": "top", "values": [0, 160, 320], "labels": false}},
   "y": {"field": "v", "type": "quantitative", "axis": {"orient": "right", "values": [-1, -0.8, -0.6, -0.4, -0.2], "labels": false}},
   "detail": {"field": "s"}}}
 ]}
]
}
